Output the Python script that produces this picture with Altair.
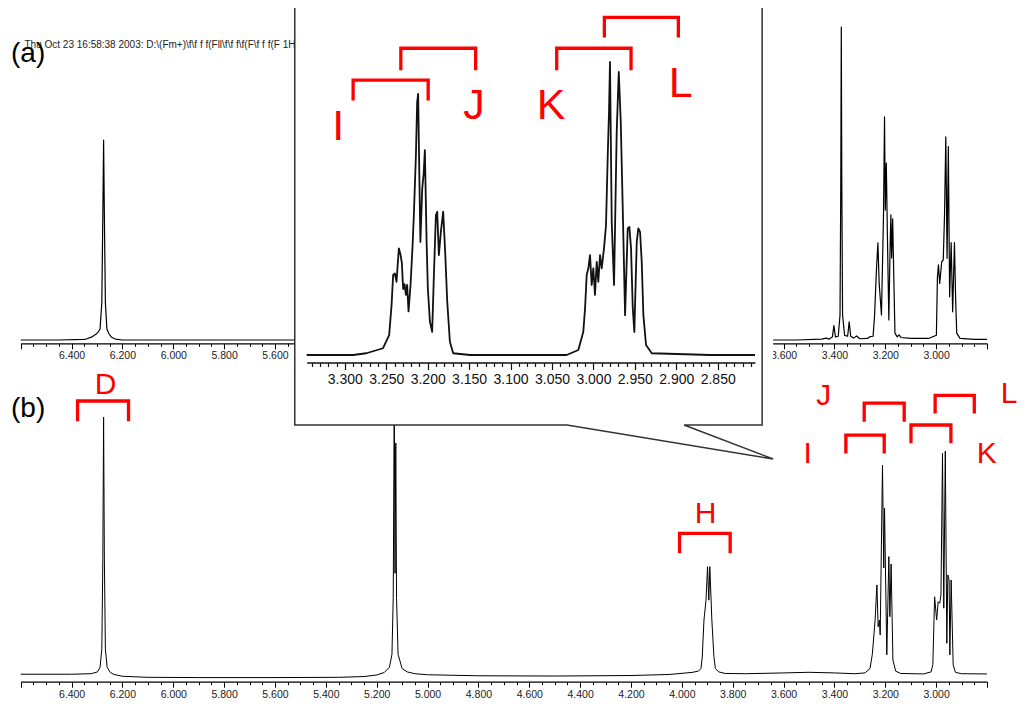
import altair as alt
import pandas as pd

# ---------------- panel (a): 1H NMR spectrum (ppm, relative intensity) ----------------
A_PPM = [6.60, 6.45, 6.353, 6.342, 6.322, 6.303, 6.294, 6.288, 6.281, 6.277, 6.274, 6.271, 6.267, 6.261,
         6.253, 6.243, 6.228, 6.20, 5.60, 4.50, 3.55, 3.45, 3.433, 3.42, 3.408, 3.402, 3.396, 3.385, 3.378,
         3.375, 3.373, 3.371, 3.368, 3.36, 3.348, 3.342, 3.336, 3.325, 3.313, 3.30, 3.27, 3.259, 3.248,
         3.242, 3.235, 3.229, 3.224, 3.215, 3.207, 3.203, 3.200, 3.196, 3.191, 3.186, 3.181, 3.178, 3.175,
         3.171, 3.166, 3.162, 3.153, 3.146, 3.138, 3.10, 3.03, 2.999, 2.995, 2.991, 2.986, 2.978, 2.972,
         2.967, 2.962, 2.957, 2.952, 2.947, 2.941, 2.935, 2.928, 2.923, 2.919, 2.906, 2.85, 2.80]
A_INT = [0, 0, 0.2, 0.3, 0.9, 1.9, 2.7, 3.5, 12, 40, 63.9, 40, 12, 3.5,
         2.0, 0.9, 0.3, 0, 0, 0, 0, 0.3, 0.6, 0.3, 1.0, 4.6, 1.0, 1.2, 8,
         50, 100, 50, 8, 1.5, 1.2, 5.8, 1.2, 0.6, 1.3, 0.4, 0.5, 1.1, 1.2,
         8, 22, 31, 18, 8, 40, 71.3, 41.5, 56.5, 30, 6.4, 30, 40, 26.2,
         38.7, 18, 2.2, 1.0, 1.6, 0.8, 0.5, 0.5, 1.5, 20, 24, 18.1, 25, 25.6,
         40, 64.9, 26.1, 61.8, 13.8, 31.1, 9, 31.1, 12, 2.2, 0.5, 0.2, 0.2]

# ---------------- panel (b) ----------------
B_PPM = [6.60, 6.40, 6.323, 6.298, 6.288, 6.281, 6.277, 6.274, 6.271, 6.267, 6.260, 6.248, 6.233, 6.20,
         6.10, 5.90, 5.60, 5.35, 5.25, 5.20, 5.17, 5.15, 5.14, 5.135, 5.131, 5.128, 5.125, 5.122, 5.116,
         5.10, 5.08, 5.05, 5.00, 4.80, 4.50, 4.20, 4.05, 3.96, 3.935, 3.925, 3.920, 3.913, 3.905, 3.899,
         3.894, 3.890, 3.882, 3.874, 3.868, 3.855, 3.83, 3.75, 3.60, 3.50, 3.40, 3.32, 3.28, 3.26, 3.251,
         3.240, 3.233, 3.228, 3.223, 3.220, 3.211, 3.206, 3.203, 3.194, 3.186, 3.182, 3.177, 3.170, 3.159,
         3.14, 3.05, 3.02, 3.013, 3.006, 2.998, 2.992, 2.986, 2.981, 2.975, 2.970, 2.964, 2.958, 2.954,
         2.949, 2.946, 2.941, 2.933, 2.924, 2.90, 2.80]
B_INT = [0.3, 0.3, 0.5, 1.2, 3, 10, 45, 100, 45, 10, 3, 1.0, 0.2, -0.5,
         -0.9, -1.0, -1.0, -0.9, -0.6, 0.0, 1.0, 3, 8, 30, 110, 39.4, 89.9, 30, 8,
         2.5, 1.2, 0.5, 0.1, -0.3, -0.4, -0.2, 0.2, 1.0, 1.5, 2.5, 6.6, 21.3, 29, 42,
         29, 42, 21.3, 7.1, 2.5, 1.2, 0.6, 0.5, 0.8, 1.05, 0.8, 0.5, 0.8, 2.5, 8,
         21.3, 34.9, 18.7, 21.3, 15.5, 81.4, 41.5, 64.7, 7.8, 45.9, 22.6, 43, 5.8, 1.5,
         0.6, 0.4, 1.2, 4, 30.3, 21.3, 28.4, 27.8, 31, 85.9, 25.9, 86.8, 12.3, 38.8,
         36.8, 7.8, 36.8, 3.9, 1.0, 0.5, 0.4]

# ---------------- inset: expansion 3.35 - 2.80 ppm ----------------
IN_PPM = [3.346, 3.290, 3.274, 3.254, 3.2465, 3.2436, 3.2417, 3.2396, 3.2376, 3.2348, 3.2327, 3.2312,
          3.2296, 3.2279, 3.2263, 3.2248, 3.2231, 3.2207, 3.2182, 3.2167, 3.2142, 3.2127, 3.2115, 3.2100,
          3.2088, 3.2066, 3.2048, 3.2034, 3.2013, 3.1998, 3.1973, 3.1946, 3.1925, 3.1901, 3.1885, 3.1865,
          3.1841, 3.1813, 3.1789, 3.1764, 3.1732, 3.1692, 3.149, 3.0323, 3.0182, 3.0122, 3.0101, 3.0081,
          3.0061, 3.0041, 3.0021, 3.0001, 2.9981, 2.9960, 2.9941, 2.9920, 2.9900, 2.9872, 2.9848, 2.9827,
          2.9812, 2.9800, 2.9779, 2.9751, 2.9719, 2.9694, 2.9670, 2.9646, 2.9618, 2.9586, 2.9566, 2.9546,
          2.9525, 2.9506, 2.9477, 2.9458, 2.9437, 2.9417, 2.9397, 2.9365, 2.9296, 2.859, 2.805]
IN_INT = [0, 0, 0.6, 2.3, 6.8, 17.0, 27.3, 27.8, 25.0, 36.4, 34.1, 31.5,
          22.5, 24.2, 20.5, 23.9, 14.9, 23.9, 37.5, 47.7, 68.2, 86.3, 89.1, 60,
          38.6, 56.8, 62, 69.9, 38.6, 22.7, 11.4, 7.9, 27.3, 47.7, 48.9, 34.1,
          42.0, 48.9, 35.2, 18.2, 4.5, 0.6, 0, 0, 1.7, 7.9, 15.9, 27.3,
          29.6, 34.1, 23.9, 29.6, 20.5, 31.8, 25.0, 34.1, 29.6, 36.4, 44.3, 68.2,
          82.9, 100, 45.4, 23.9, 76.1, 96.6, 79.5, 50.0, 13.6, 43.2, 43.7, 36.4,
          15.9, 7.9, 38.6, 43.2, 42.0, 31.8, 13.6, 3.4, 0.6, 0, 0]

assert len(A_PPM) == len(A_INT) and len(B_PPM) == len(B_INT) and len(IN_PPM) == len(IN_INT)

# ---------------- annotations ----------------
B_BR_NAMES = ["D", "H", "I", "J", "K", "L"]
B_BR_LEFT = [6.3764, 4.009, 3.355, 3.2829, 3.099, 3.004]
B_BR_RIGHT = [6.176, 3.810, 3.2042, 3.1256, 2.942, 2.850]
B_BR_TOP = [106.2, 54.9, 93.0, 105.4, 96.9, 108.4]
B_BR_FOOT = [98.4, 47.2, 85.9, 98.2, 89.8, 101.4]
B_LET_PPM = [6.2663, 3.9067, 3.5050, 3.4420, 2.8006, 2.7130]
B_LET_INT = [108.9, 59.0, 82.1, 104.7, 82.1, 105.3]

IN_BR_NAMES = ["I", "J", "K", "L"]
IN_BR_LEFT = [3.290, 3.2324, 3.0443, 2.9868]
IN_BR_RIGHT = [3.1994, 3.1421, 2.9546, 2.8975]
IN_BR_TOP = [93.8, 104.7, 104.7, 115.2]
IN_BR_FOOT = [86.9, 97.2, 97.2, 108.4]
IN_LET_PPM = [3.3081, 3.1442, 3.0512, 2.8948]
IN_LET_INT = [73.3, 80.7, 80.7, 87.9]

FRAME_PPM = [3.3604, 2.7964, 2.7964, 2.8906, 2.7831, 3.0319, 3.3604, 3.3604]
FRAME_INT = [119.3, 119.3, -23.9, -23.9, -35.5, -23.9, -23.9, 119.3]

PANEL_TAGS = ["(a)", "(b)"]
TAG_PPM = [6.638, 6.638]
TAG_INT = [88.8, 100.0]
HEADER = "Thu Oct 23 16:58:38 2003: D:\\(Fm+)\\f\\f  f  f(Fll\\f\\f  f\\f(F\\f  f  f(F 1H"
HEADER_PPM = 6.585
HEADER_INT = 93.2

MAIN_TICKS = [round(6.6 - 0.05 * i, 2) for i in range(77)]
IN_TICKS = [round(3.34 - 0.01 * i, 2) for i in range(54)]

FONT = "Liberation Sans"
RED = "#ff0000"

# ---------------- scales / axes ----------------
W, H = 1013, 692
main_x_scale = alt.Scale(domain=[6.6, 2.8], range=[12.7, 979], zero=False, nice=False)
inset_x_scale = alt.Scale(domain=[3.346, 2.805], range=[298.7, 747], zero=False, nice=False)
ya_scale = alt.Scale(domain=[0, 100], range=[332, 19], zero=False, nice=False)
yb_scale = alt.Scale(domain=[0, 100], range=[667, 409], zero=False, nice=False)
yi_scale = alt.Scale(domain=[0, 100], range=[347, 54], zero=False, nice=False)

MAIN_MAJOR = "round(datum.value * 100) % 20 === 0"
MAIN_LABEL = ("(round(datum.value * 100) % 20 === 0 && datum.value > 2.9 && datum.value < 6.5)"
              " ? format(datum.value, '.3f') : ''")
IN_MAJOR = "round(datum.value * 100) % 5 === 0"
IN_LABEL = "round(datum.value * 100) % 5 === 0 ? format(datum.value, '.3f') : ''"


def main_axis(offset):
    return alt.Axis(
        values=MAIN_TICKS, orient="bottom", offset=offset, title=None, grid=False,
        labelExpr=MAIN_LABEL,
        labelOverlap=False, labelFlush=False, labelFont=FONT, labelFontSize=10.5, labelColor="#222",
        labelPadding=2,
        tickSize={"condition": {"test": MAIN_MAJOR, "value": 5.5}, "value": 3},
        tickColor="#000", tickWidth=1, domainColor="#000", domainWidth=1.2, zindex=0)


inset_axis = alt.Axis(
    values=IN_TICKS, orient="bottom", offset=354.5 - H, title=None, grid=False,
    labelExpr=IN_LABEL,
    labelOverlap=False, labelFlush=False, labelFont=FONT, labelFontSize=14, labelColor="#111",
    labelPadding=3,
    tickSize={"condition": {"test": IN_MAJOR, "value": 7}, "value": 4},
    tickColor="#111", tickWidth=1.2, domainColor="#111", domainWidth=1.6, zindex=1)

axis_a = main_axis(335.3 - H)
axis_b = main_axis(673.7 - H)


def enc(xscale, xaxis, yscale):
    return dict(x=alt.X("ppm:Q", scale=xscale, axis=xaxis),
                y=alt.Y("inten:Q", scale=yscale, axis=None))


def spectrum_df(ppm, inten):
    return pd.DataFrame({"ppm": ppm, "inten": inten, "i": list(range(len(ppm)))})


def bracket_df(names, left, right, top, foot):
    rows = []
    for n, l, r, t, f in zip(names, left, right, top, foot):
        rows += [dict(name=n, ppm=l, inten=f, k=0), dict(name=n, ppm=l, inten=t, k=1),
                 dict(name=n, ppm=r, inten=t, k=2), dict(name=n, ppm=r, inten=f, k=3)]
    return pd.DataFrame(rows)


# ---------------- panel (a) ----------------
ea = enc(main_x_scale, axis_a, ya_scale)
a_line = alt.Chart(spectrum_df(A_PPM, A_INT)).mark_line(
    color="#000", strokeWidth=1.2, strokeJoin="round").encode(order="i:Q", **ea)
a_tag = alt.Chart(pd.DataFrame({"ppm": [TAG_PPM[0]], "inten": [TAG_INT[0]], "t": [PANEL_TAGS[0]]})).mark_text(
    font=FONT, fontSize=28, align="left", baseline="alphabetic", color="#000").encode(text="t:N", **ea)
a_head = alt.Chart(pd.DataFrame({"ppm": [HEADER_PPM], "inten": [HEADER_INT], "t": [HEADER]})).mark_text(
    font=FONT, fontSize=10, align="left", baseline="alphabetic", color="#222").encode(text="t:N", **ea)
panel_a = alt.layer(a_line, a_head, a_tag)

# ---------------- panel (b) ----------------
eb = enc(main_x_scale, axis_b, yb_scale)
b_line = alt.Chart(spectrum_df(B_PPM, B_INT)).mark_line(
    color="#000", strokeWidth=1.0, strokeJoin="round").encode(order="i:Q", **eb)
b_br = alt.Chart(bracket_df(B_BR_NAMES, B_BR_LEFT, B_BR_RIGHT, B_BR_TOP, B_BR_FOOT)).mark_line(
    color=RED, strokeWidth=3.3, strokeJoin="miter", strokeCap="butt").encode(
    detail="name:N", order="k:Q", **eb)
b_let = alt.Chart(pd.DataFrame({"ppm": B_LET_PPM, "inten": B_LET_INT, "t": B_BR_NAMES})).mark_text(
    font=FONT, fontSize=30, align="center", baseline="alphabetic", color=RED).encode(text="t:N", **eb)
b_tag = alt.Chart(pd.DataFrame({"ppm": [TAG_PPM[1]], "inten": [TAG_INT[1]], "t": [PANEL_TAGS[1]]})).mark_text(
    font=FONT, fontSize=28, align="left", baseline="alphabetic", color="#000").encode(text="t:N", **eb)
panel_b = alt.layer(b_line, b_br, b_let, b_tag)

# ---------------- inset ----------------
ei = enc(inset_x_scale, inset_axis, yi_scale)
in_bg = alt.Chart(pd.DataFrame({"ppm": [min(FRAME_PPM)], "ppm2": [max(FRAME_PPM)],
                                "inten": [min(FRAME_INT[:4] + FRAME_INT[5:])], "inten2": [max(FRAME_INT)]})).mark_rect(
    color="white").encode(x2="ppm2:Q", y2="inten2:Q", **ei)
in_frame = alt.Chart(pd.DataFrame({"ppm": FRAME_PPM, "inten": FRAME_INT, "k": list(range(len(FRAME_PPM)))})).mark_line(
    color="#333", strokeWidth=1.5, strokeJoin="miter").encode(order="k:Q", **ei)
in_line = alt.Chart(spectrum_df(IN_PPM, IN_INT)).mark_line(
    color="#111", strokeWidth=1.8, strokeJoin="round").encode(order="i:Q", **ei)
in_br = alt.Chart(bracket_df(IN_BR_NAMES, IN_BR_LEFT, IN_BR_RIGHT, IN_BR_TOP, IN_BR_FOOT)).mark_line(
    color=RED, strokeWidth=3.3, strokeJoin="miter", strokeCap="butt").encode(
    detail="name:N", order="k:Q", **ei)
in_let = alt.Chart(pd.DataFrame({"ppm": IN_LET_PPM, "inten": IN_LET_INT, "t": IN_BR_NAMES})).mark_text(
    font=FONT, fontSize=43, align="center", baseline="alphabetic", color=RED).encode(text="t:N", **ei)
inset = alt.layer(in_bg, in_frame, in_line, in_br, in_let)

chart = alt.layer(panel_a, panel_b, inset).resolve_scale(
    x="independent", y="independent").resolve_axis(x="independent", y="independent").properties(
    width=W, height=H, autosize=alt.AutoSizeParams(type="none"), padding=0, background="white"
).configure_view(stroke=None)

chart.save("out.html", embed_options={"renderer": "svg", "actions": False})
